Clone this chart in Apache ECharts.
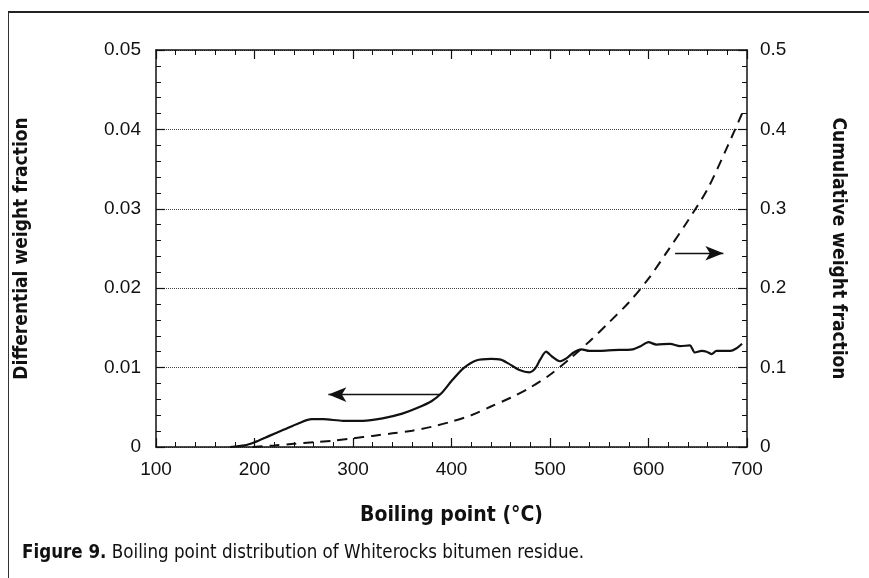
<!DOCTYPE html>
<html>
<head>
<meta charset="utf-8">
<script src="https://cdn.jsdelivr.net/npm/echarts@6/dist/echarts.min.js"></script>
<style>
  html, body { margin: 0; padding: 0; background: #fff; }
  #wrap { position: relative; width: 869px; height: 578px; overflow: hidden; }
  #frame { position: absolute; left: 8px; top: 11px; right: 0; bottom: 0;
           border-top: 2px solid #222; border-left: 1.5px solid #333; pointer-events: none; }
  #chart { position: absolute; left: 0; top: 0; width: 869px; height: 578px; }
</style>
</head>
<body>
<div id="wrap">
  <div id="chart"></div>
  <div id="frame"></div>
</div>
<script>
// Boiling point (°C) grid for the differential distribution
const diffTemps = [175, 190, 200, 215, 230, 245, 258, 270, 290, 310, 330, 350, 365, 380, 390, 400, 412, 425, 440, 450, 458, 469, 479, 485, 490, 496, 502, 510, 517, 524, 532, 540, 551, 564, 584, 592, 600, 608, 622, 632, 642, 647, 654, 659, 664, 669, 683, 689, 695];
// Differential weight fraction (left axis)
const diffValues = [0, 0.0002, 0.0006, 0.0014, 0.0022, 0.0030, 0.0035, 0.0035, 0.0033, 0.0033, 0.0036, 0.0042, 0.0049, 0.0058, 0.0068, 0.0083, 0.0099, 0.0109, 0.0111, 0.0110, 0.0105, 0.0097, 0.0094, 0.0099, 0.0110, 0.0120, 0.0114, 0.0108, 0.0112, 0.0119, 0.0123, 0.0121, 0.0121, 0.0122, 0.0123, 0.0127, 0.0132, 0.0129, 0.0130, 0.0127, 0.0128, 0.0119, 0.0121, 0.0120, 0.0117, 0.0121, 0.0121, 0.0124, 0.0130];

// Boiling point (°C) grid for the cumulative distribution
const cumTemps = [198, 220, 240, 260, 280, 300, 320, 340, 360, 380, 400, 420, 440, 460, 480, 500, 520, 540, 560, 580, 600, 620, 640, 660, 680, 695];
// Cumulative weight fraction (right axis)
const cumValues = [0, 0.002, 0.004, 0.006, 0.008, 0.011, 0.014, 0.0172, 0.0205, 0.0255, 0.032, 0.040, 0.051, 0.062, 0.075, 0.091, 0.111, 0.133, 0.157, 0.182, 0.212, 0.248, 0.285, 0.325, 0.378, 0.420];

// Axis ranges and tick spacing
const xRange = [100, 700], xStep = 100;
const leftRange = [0, 0.05], leftStep = 0.01;
const rightRange = [0, 0.5], rightStep = 0.1;

// Pointer arrows: [x start, x end, y] in data units of their own axis
const diffArrow = [388, 275, 0.0066];
const cumArrow = [627, 676, 0.244];

const textFont = "'Liberation Sans', Arial, sans-serif";
const titleFont = "'DejaVu Sans Condensed', 'Noto Sans', sans-serif";

const pairs = (xs, ys) => xs.map((x, i) => [x, ys[i]]);

const tickCommon = { inside: true, length: 9, lineStyle: { color: '#111', width: 1.2 } };
const minorCommon = { show: true, splitNumber: 5, length: 5, lineStyle: { color: '#111', width: 1 } };
const lineCommon = { show: true, onZero: false, lineStyle: { color: '#111', width: 1.5 } };

const chart = echarts.init(document.getElementById('chart'), null, { renderer: 'canvas' });
chart.setOption({
  animation: false,
  backgroundColor: 'transparent',
  title: {
    text: '{b|Figure 9.} Boiling point distribution of Whiterocks bitumen residue.',
    left: 17, top: 539,
    textStyle: {
      fontFamily: titleFont, fontSize: 18.6, fontWeight: 'normal', color: '#111',
      rich: { b: { fontFamily: titleFont, fontSize: 18.6, fontWeight: 'bold', color: '#111' } }
    }
  },
  grid: { left: 156, right: 122, top: 50, bottom: 131, containLabel: false },
  xAxis: [{
    type: 'value', min: xRange[0], max: xRange[1], interval: xStep,
    position: 'bottom',
    name: 'Boiling point (°C)', nameLocation: 'middle', nameGap: 58,
    nameTextStyle: { fontFamily: titleFont, fontSize: 21, fontWeight: 'bold', color: '#111' },
    axisLine: lineCommon, axisTick: tickCommon, minorTick: minorCommon,
    axisLabel: { fontFamily: textFont, fontSize: 19, color: '#111', margin: 13 },
    splitLine: { show: false }
  }, {
    type: 'value', min: xRange[0], max: xRange[1], interval: xStep,
    position: 'top',
    axisLine: lineCommon, axisTick: tickCommon, minorTick: minorCommon,
    axisLabel: { show: false }, splitLine: { show: false }
  }],
  yAxis: [{
    type: 'value', min: leftRange[0], max: leftRange[1], interval: leftStep,
    position: 'left',
    name: 'Differential weight fraction', nameLocation: 'middle', nameRotate: 90, nameGap: 124,
    nameTextStyle: { fontFamily: titleFont, fontSize: 19, fontWeight: 'bold', color: '#111' },
    axisLine: lineCommon, axisTick: tickCommon, minorTick: minorCommon,
    axisLabel: { fontFamily: textFont, fontSize: 19, color: '#111', margin: 15 },
    splitLine: { show: true, lineStyle: { type: 'dotted', color: '#444', width: 1 } }
  }, {
    type: 'value', min: rightRange[0], max: rightRange[1], interval: rightStep,
    position: 'right',
    name: 'Cumulative weight fraction', nameLocation: 'middle', nameRotate: -90, nameGap: 81,
    nameTextStyle: { fontFamily: titleFont, fontSize: 19, fontWeight: 'bold', color: '#111' },
    axisLine: lineCommon, axisTick: tickCommon, minorTick: minorCommon,
    axisLabel: { fontFamily: textFont, fontSize: 19, color: '#111', margin: 13 },
    splitLine: { show: false }
  }],
  series: [{
    name: 'Differential weight fraction',
    type: 'line', xAxisIndex: 0, yAxisIndex: 0,
    data: pairs(diffTemps, diffValues),
    showSymbol: false, smooth: 0.25,
    lineStyle: { color: '#111', width: 2.2 },
    markLine: {
      silent: true, symbol: ['none', 'arrow'], symbolSize: [11, 18],
      label: { show: false },
      lineStyle: { color: '#111', width: 1.3, type: 'solid' },
      data: [[{ coord: [diffArrow[0], diffArrow[2]] }, { coord: [diffArrow[1], diffArrow[2]] }]]
    },
    z: 3
  }, {
    name: 'Cumulative weight fraction',
    type: 'line', xAxisIndex: 0, yAxisIndex: 1,
    data: pairs(cumTemps, cumValues),
    showSymbol: false, smooth: 0.3,
    lineStyle: { color: '#111', width: 2, type: [10, 7] },
    markLine: {
      silent: true, symbol: ['none', 'arrow'], symbolSize: [11, 18],
      label: { show: false },
      lineStyle: { color: '#111', width: 1.3, type: 'solid' },
      data: [[{ coord: [cumArrow[0], cumArrow[2]] }, { coord: [cumArrow[1], cumArrow[2]] }]]
    },
    z: 3
  }]
});
</script>
</body>
</html>
